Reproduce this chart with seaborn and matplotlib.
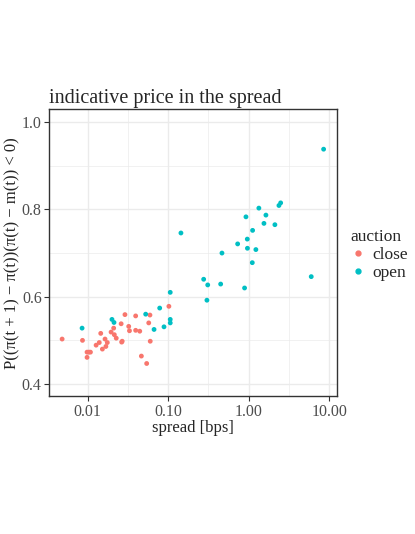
import matplotlib
matplotlib.use("Agg")
import matplotlib.pyplot as plt
import seaborn as sns
import pandas as pd
import numpy as np
from matplotlib.lines import Line2D

# data
close_spread = [0.0048, 0.0086, 0.0098, 0.0103, 0.0108, 0.0098, 0.0127, 0.0139, 0.0145, 0.0152,
                0.0164, 0.0168, 0.0175, 0.0195, 0.0210, 0.0214, 0.0226, 0.0260, 0.0264, 0.0268,
                0.0290, 0.0323, 0.0330, 0.0394, 0.0394, 0.0443, 0.0464, 0.0540, 0.0573, 0.0593,
                0.0598, 0.102]
close_prob = [0.503, 0.500, 0.473, 0.473, 0.473, 0.461, 0.489, 0.495, 0.516, 0.480,
              0.503, 0.486, 0.495, 0.519, 0.528, 0.513, 0.505, 0.538, 0.496, 0.498,
              0.559, 0.532, 0.522, 0.556, 0.523, 0.521, 0.464, 0.447, 0.540, 0.558,
              0.498, 0.578]
open_spread = [0.0085, 0.020, 0.0212, 0.0525, 0.0667, 0.0784, 0.0887, 0.106, 0.106, 0.106,
               0.144, 0.276, 0.303, 0.310, 0.449, 0.466, 0.73, 0.89, 0.926, 0.962,
               0.966, 1.11, 1.12, 1.23, 1.34, 1.55, 1.64, 2.12, 2.38, 2.50,
               6.0, 8.55]
open_prob = [0.528, 0.548, 0.541, 0.560, 0.525, 0.574, 0.531, 0.610, 0.548, 0.540,
             0.746, 0.640, 0.592, 0.627, 0.629, 0.700, 0.721, 0.620, 0.783, 0.732,
             0.711, 0.678, 0.752, 0.708, 0.803, 0.768, 0.787, 0.765, 0.809, 0.815,
             0.646, 0.938]
auction_levels = ["close", "open"]
palette = {"close": "#F8766D", "open": "#00BFC4"}
x_ticks = [0.01, 0.1, 1, 10]
x_ticklabels = ["0.01", "0.10", "1.00", "10.00"]
y_ticks = [0.4, 0.6, 0.8, 1.0]
y_ticklabels = ["0.4", "0.6", "0.8", "1.0"]

df = pd.DataFrame({
    "spread": close_spread + open_spread,
    "prob": close_prob + open_prob,
    "auction": ["close"] * len(close_spread) + ["open"] * len(open_spread),
})

sns.set_style("white")
plt.rcParams["font.family"] = ["Liberation Serif", "DejaVu Serif"]

fig = plt.figure(figsize=(4.15, 5.34), dpi=100)
ax = fig.add_axes([0.119, 0.258, 0.692, 0.537])

# grid (ggplot theme_bw look)
for v in [10 ** -1.5, 10 ** -0.5, 10 ** 0.5]:
    ax.axvline(v, color="#EBEBEB", lw=0.5, zorder=0)
for v in [0.5, 0.7, 0.9]:
    ax.axhline(v, color="#EBEBEB", lw=0.5, zorder=0)
for v in x_ticks:
    ax.axvline(v, color="#EBEBEB", lw=1.0, zorder=0)
for v in y_ticks:
    ax.axhline(v, color="#EBEBEB", lw=1.0, zorder=0)

sns.scatterplot(data=df, x="spread", y="prob", hue="auction", hue_order=auction_levels,
                palette=palette, s=12, linewidth=0, legend=False, ax=ax, zorder=3)

ax.set_xscale("log")
ax.set_xlim(10 ** -2.477, 10 ** 1.093)
ax.set_ylim(0.372, 1.029)
ax.set_xticks(x_ticks)
ax.set_xticklabels(x_ticklabels)
ax.minorticks_off()
ax.set_yticks(y_ticks)
ax.set_yticklabels(y_ticklabels)
ax.tick_params(axis="both", which="major", length=3.5, width=0.8, color="#333333",
               labelcolor="#4D4D4D", labelsize=11.5, pad=2, direction="out",
               bottom=True, left=True)
for sp in ax.spines.values():
    sp.set_color("#333333")
    sp.set_linewidth(1.0)

ax.set_xlabel("spread [bps]", fontsize=12, labelpad=0)
ax.set_ylabel("P((π(t + 1) − π(t))(π(t) − m(t)) < 0)", fontsize=12, labelpad=1)
ax.set_title("indicative price in the spread", fontsize=14.5, loc="left", pad=5)

handles = [Line2D([], [], marker="o", ls="", color=palette[k], markersize=3.5) for k in auction_levels]
leg = fig.legend(handles, auction_levels, title="auction", loc="upper left",
                 bbox_to_anchor=(0.828, 0.585), frameon=False, fontsize=12.5,
                 title_fontsize=12.5, handletextpad=0.45, labelspacing=0.12,
                 handlelength=0.8, borderaxespad=0)
leg._legend_box.align = "left"

fig.savefig("out.png", dpi=100)
